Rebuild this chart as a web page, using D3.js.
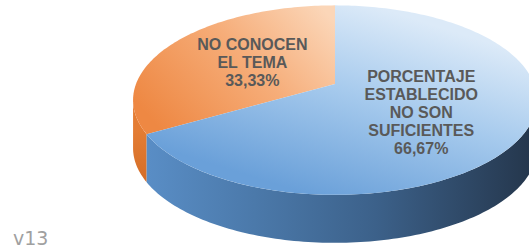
<!DOCTYPE html>
<html>
<head>
<meta charset="utf-8">
<script src="https://cdn.jsdelivr.net/npm/d3@7/dist/d3.min.js"></script>
<style>
  body { margin: 0; background: #fff; }
  svg { display: block; }
</style>
</head>
<body>
<div id="chart"></div>
<script>
// slices, in drawing order (first one ends at 12 o'clock)
const categories = ["NO CONOCEN EL TEMA", "PORCENTAJE ESTABLECIDO NO SON SUFICIENTES"];
const values = [33.33, 66.67];
const labelLines = [["NO CONOCEN", "EL TEMA"], ["PORCENTAJE", "ESTABLECIDO", "NO SON", "SUFICIENTES"]];
const versionText = "v13";

const width = 529, height = 250;

// 3d look of the pie
const cx = 335, cy = 84, rx = 199, ry = 92, depth = 48, k = 0.17;

const svg = d3.select("#chart")
  .append("svg")
    .attr("width", width)
    .attr("height", height);

const defs = svg.append("defs");

function grad(id, x1, y1, x2, y2, stops) {
  const g = defs.append("linearGradient")
    .attr("id", id)
    .attr("gradientUnits", "userSpaceOnUse")
    .attr("x1", x1).attr("y1", y1).attr("x2", x2).attr("y2", y2);
  stops.forEach(s => g.append("stop").attr("offset", s[0]).attr("stop-color", s[1]));
}
grad("topOrange", 320, 5, 170, 140, [[0, "#fbd6b8"], [0.45, "#f6ad79"], [1, "#ee8843"]]);
grad("topBlue", 370, 5, 310, 195, [[0, "#dceaf8"], [0.45, "#a6caed"], [1, "#6aa0d9"]]);
grad("sideOrange", 0, 130, 0, 190, [[0, "#e47d34"], [1, "#d26b26"]]);
grad("sideBlue", 133, 0, 537, 0, [[0, "#5b90c9"], [0.3, "#4b79aa"], [0.6, "#3c618a"], [1, "#24354a"]]);

const topFill = ["url(#topOrange)", "url(#topBlue)"];
const sideFill = ["url(#sideOrange)", "url(#sideBlue)"];

const total = d3.sum(values);
const pie = d3.pie().sort(null)
  .startAngle(-2 * Math.PI * values[0] / total)
  .endAngle(2 * Math.PI - 2 * Math.PI * values[0] / total);
const arcs = pie(values);

// unit circle -> screen, with a bit of perspective
const xs = d3.scaleLinear().domain([-1, 1]).range([cx - rx, cx + rx]);
const ys = d3.scaleLinear().domain([-1, 1]).range([cy - ry, cy + ry]);

function proj(a, r, dz) {
  const u = r * Math.sin(a), v = -r * Math.cos(a);
  const s = 1 / (1 - k * v);
  return [xs(u * s), ys(v * s) + (dz || 0)];
}

function samples(a0, a1) {
  const n = Math.max(2, Math.ceil(Math.abs(a1 - a0) / 0.02));
  return d3.range(n + 1).map(i => a0 + (a1 - a0) * i / n);
}

const line = d3.line();

// visible part of the wall
const vis0 = Math.acos(-k), vis1 = 2 * Math.PI - Math.acos(-k);

arcs.forEach((d, i) => {
  let a0 = d.startAngle, a1 = d.endAngle;
  if (a0 < 0) { a0 += 2 * Math.PI; a1 += 2 * Math.PI; }
  const s0 = Math.max(a0, vis0), s1 = Math.min(a1, vis1);
  if (s1 <= s0) return;
  const ang = samples(s0, s1);
  const pts = ang.map(a => proj(a, 1, 0))
    .concat(ang.slice().reverse().map(a => proj(a, 1, depth)));
  svg.append("path")
    .attr("d", line(pts) + "Z")
    .attr("fill", sideFill[i]);
});

arcs.forEach((d, i) => {
  const pts = [proj(0, 0, 0)].concat(samples(d.startAngle, d.endAngle).map(a => proj(a, 1, 0)));
  svg.append("path")
    .attr("d", line(pts) + "Z")
    .attr("fill", topFill[i]);
});

// labels
const pct = d3.formatLocale({decimal: ",", thousands: ".", grouping: [3], currency: ["", ""]}).format(".2f");
const labelR = [0.5, 0.48];
const labelShift = [0, 5];
arcs.forEach((d, i) => {
  const mid = (d.startAngle + d.endAngle) / 2;
  const p = proj(mid, labelR[i], 0);
  const lines = labelLines[i].concat([pct(values[i]) + "%"]);
  const t = svg.append("text")
    .attr("text-anchor", "middle")
    .attr("font-family", "'Liberation Sans', Arial, sans-serif")
    .attr("font-weight", "bold")
    .attr("font-size", 16)
    .attr("fill", "#595959");
  lines.forEach((l, j) => {
    t.append("tspan")
      .attr("x", p[0])
      .attr("y", p[1] + labelShift[i] + 5.7 + (j - (lines.length - 1) / 2) * 18)
      .text(l);
  });
});

svg.append("text")
  .attr("x", 13)
  .attr("y", 245)
  .attr("font-family", "'DejaVu Sans', sans-serif")
  .attr("font-size", 19)
  .attr("fill", "#a0a0a0")
  .text(versionText);
</script>
</body>
</html>
